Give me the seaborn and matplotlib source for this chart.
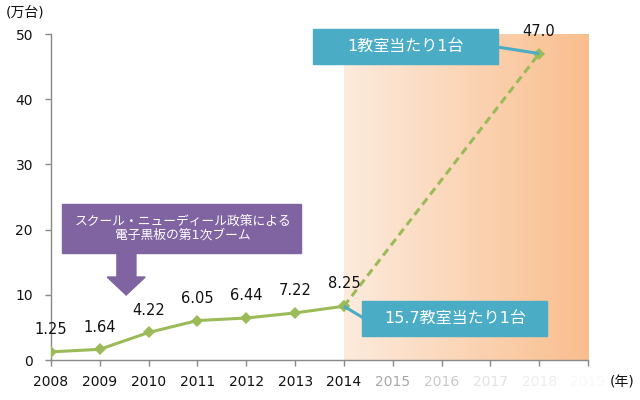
import numpy as np
import pandas as pd
import seaborn as sns
import matplotlib.pyplot as plt
from matplotlib.colors import LinearSegmentedColormap
from matplotlib.patches import Rectangle, Polygon

# data
years = [2008, 2009, 2010, 2011, 2012, 2013, 2014]
units = [1.25, 1.64, 4.22, 6.05, 6.44, 7.22, 8.25]
unit_labels = ['1.25', '1.64', '4.22', '6.05', '6.44', '7.22', '8.25']
target_years = [2014, 2018]
target_units = [8.25, 47.0]
target_label = '47.0'
tick_years = list(range(2008, 2020))
y_ticks = [0, 10, 20, 30, 40, 50]

GREEN = '#9BBB59'
BLUE = '#4BACC6'
PURPLE = '#8064A2'

sns.set_theme(style="white")
plt.rcParams['font.family'] = ['DejaVu Sans', 'Noto Sans CJK JP']

fig = plt.figure(figsize=(6.4, 4), dpi=100)
ax = fig.add_axes([51/640, 40/400, 537/640, 326/400])

# shaded forecast zone
cmap = LinearSegmentedColormap.from_list('fade', ['#FDEBDD', '#F9BE8E'])
grad = np.linspace(0, 1, 256).reshape(1, -1)
ax.imshow(grad, cmap=cmap, extent=(2014, 2019, 0, 50), aspect='auto', zorder=0)

actual_df = pd.DataFrame({'year': years, 'units': units})
target_df = pd.DataFrame({'year': target_years, 'units': target_units})
sns.lineplot(data=actual_df, x='year', y='units', color=GREEN, lw=2.2,
             marker='D', markersize=6, markeredgewidth=0, ax=ax, zorder=3)
sns.lineplot(data=target_df, x='year', y='units', color=GREEN, lw=2.2,
             ls=(0, (2.6, 1.6)), marker='D', markersize=6, markeredgewidth=0,
             ax=ax, zorder=3)

for x, y, s in zip(years, units, unit_labels):
    ax.annotate(s, (x, y), xytext=(0, 16), textcoords='offset points',
                ha='center', va='center', fontsize=10.5, color='#111111')
ax.annotate(target_label, (target_years[-1], target_units[-1]), xytext=(0, 16),
            textcoords='offset points', ha='center', va='center',
            fontsize=10.5, color='#111111')

ax.set_xlim(2008, 2019)
ax.set_ylim(0, 50)
ax.set_xticks(tick_years)
ax.set_xticklabels([str(y) for y in tick_years])
ax.set_yticks(y_ticks)
ax.set_xlabel('')
ax.set_ylabel('')

for side in ['top', 'right']:
    ax.spines[side].set_visible(False)
for side in ['left', 'bottom']:
    ax.spines[side].set_color('#898989')
    ax.spines[side].set_linewidth(1.0)
ax.tick_params(axis='both', which='major', direction='out', length=4,
               width=1, color='#898989', labelsize=10, labelcolor='#111111')
ax.tick_params(axis='x', pad=7)
ax.tick_params(axis='y', pad=9, left=True)
ax.tick_params(axis='x', bottom=True)

fade = ['#A6A6A6', '#C8C8C8', '#E2E2E2', '#EDEDED', '#F8F8F8']
for tick, lab, c in zip(ax.xaxis.get_major_ticks()[7:], ax.get_xticklabels()[7:], fade):
    lab.set_color(c)
    tick.tick1line.set_color(c)

# callout boxes
ax.plot([2017.15, 2018], [48.0, 47.0], color=BLUE, lw=2.2, zorder=4, solid_capstyle='butt')
ax.add_patch(Rectangle((2013.37, 45.4), 3.78, 5.37, color=BLUE, zorder=5, clip_on=False))
ax.text(2015.26, 48.08, '1教室当たり1台', color='white', fontsize=11.5,
        ha='center', va='center', zorder=6)

ax.plot([2014, 2014.4], [8.25, 6.44], color=BLUE, lw=2.2, zorder=4, solid_capstyle='butt')
ax.add_patch(Rectangle((2014.38, 3.68), 3.79, 5.37, color=BLUE, zorder=5))
ax.text(2016.28, 6.37, '15.7教室当たり1台', color='white', fontsize=11.5,
        ha='center', va='center', zorder=6)

ax.add_patch(Rectangle((2008.23, 16.41), 4.9, 7.52, color=PURPLE, zorder=5))
ax.add_patch(Polygon([(2009.35, 16.5), (2009.74, 16.5), (2009.74, 12.73),
                      (2009.93, 12.73), (2009.54, 9.97), (2009.15, 12.73),
                      (2009.35, 12.73)], closed=True, color=PURPLE, zorder=5))
ax.text(2010.7, 20.2, 'スクール・ニューディール政策による\n電子黒板の第1次ブーム',
        color='white', fontsize=9.2, ha='center', va='center', linespacing=1.0,
        zorder=6)

fig.text(25/640, 1 - 13/400, '(万台)', fontsize=10, ha='center', va='center', color='#111111')
fig.text(622/640, 1 - 383/400, '(年)', fontsize=10, ha='center', va='center', color='#111111')

fig.savefig('out.png', dpi=100)
